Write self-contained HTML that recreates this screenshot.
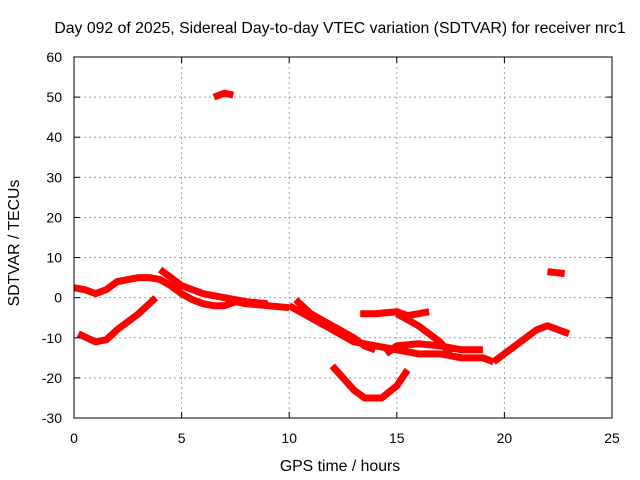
<!DOCTYPE html>
<html><head><meta charset="utf-8"><style>
body{margin:0;background:#fff}
svg{display:block;font-family:"Liberation Sans",sans-serif;font-size:14px}
.big{font-size:15.8px}
</style></head><body>
<svg id="c" width="640" height="480">
<text class="big" x="340" y="33" text-anchor="middle">Day 092 of 2025, Sidereal Day-to-day VTEC variation (SDTVAR) for receiver nrc1</text>
<text class="big" x="340" y="471" text-anchor="middle">GPS time / hours</text>
<text class="big" transform="translate(19,243) rotate(-90)" text-anchor="middle">SDTVAR / TECUs</text>
<g id="grid"></g><g id="series"></g>
<rect x="74" y="57" width="538" height="361" fill="none" stroke="#000"/>
<g id="ticks"></g>
</svg>
<script>
const xTicks=[0,5,10,15,20,25];
const yTicks=[-30,-20,-10,0,10,20,30,40,50,60];
const traceMain=[[0,2.5],[0.5,2],[1,1],[1.5,2],[2,4],[2.5,4.5],[3,5],[3.5,5],[4,4.5],[4.5,3],[5,1],[5.5,-0.5],[6,-1.5],[6.5,-2],[7,-2],[7.5,-1],[8,-1.5],[9,-2],[10,-2.5]];
const traceUpper=[[4,7],[4.5,5],[5,3],[6,1],[7,0],[8,-1],[9,-1.5]];
const traceB=[[10.3,-0.5],[11,-4],[12,-7],[13,-10],[13.5,-12],[14,-13]];
const traceC=[[10,-2],[11,-5],[12,-8],[13,-11],[14,-12],[15,-13],[16,-14],[17,-14],[18,-15],[19,-15],[19.5,-16]];
const traceD=[[14.5,-14],[15,-12],[16,-11.5],[17,-12],[18,-13],[19,-13]];
const traceE=[[13.3,-4],[14,-4],[15,-3.5],[15.5,-4.5],[16,-4],[16.5,-3.5]];
const traceE2=[[15,-4],[16,-7],[17,-11],[17.5,-14]];
const traceF=[[19.5,-16],[20,-14],[21,-10],[21.5,-8],[22,-7],[22.5,-8],[23,-9]];
const traceG=[[0.2,-9],[1,-11],[1.5,-10.5],[2,-8],[3,-4],[3.8,0]];
const traceH=[[12,-17],[12.5,-20],[13,-23],[13.5,-25],[14.3,-25],[15,-22],[15.5,-18]];
const traceI=[[6.5,50],[7,51],[7.4,50.5]];
const traceJ=[[22,6.5],[22.8,6]];
const traces=[traceMain,traceUpper,traceB,traceC,traceD,traceE,traceE2,traceF,traceG,traceH,traceI,traceJ];
const X=v=>74+v*538/25, Y=v=>418-(v+30)*361/90;
const NS="http://www.w3.org/2000/svg";
const grid=document.getElementById('grid'),tk=document.getElementById('ticks'),ser=document.getElementById('series');
function mk(t,a,p){const e=document.createElementNS(NS,t);for(const k in a)e.setAttribute(k,a[k]);p.appendChild(e);return e;}
xTicks.forEach(v=>{
 if(v>0&&v<25){const g=mk('line',{x1:X(v),x2:X(v),y1:57,y2:418,stroke:'#a0a0a0','stroke-dasharray':'2,3'},grid);
 
 }
 const t=mk('text',{x:X(v),y:443,'text-anchor':'middle'},tk);t.textContent=v;
 
 
 mk('line',{x1:X(v),x2:X(v),y1:418,y2:412,stroke:'#000'},tk);mk('line',{x1:X(v),x2:X(v),y1:57,y2:63,stroke:'#000'},tk);
});
yTicks.forEach(v=>{
 if(v>-30&&v<60){const g=mk('line',{x1:74,x2:612,y1:Y(v),y2:Y(v),stroke:'#a0a0a0','stroke-dasharray':'2,3'},grid);
 
 }
 const t=mk('text',{x:62,y:Y(v)+5,'text-anchor':'end'},tk);t.textContent=v;
 
 
 mk('line',{x1:74,x2:80,y1:Y(v),y2:Y(v),stroke:'#000'},tk);mk('line',{x1:606,x2:612,y1:Y(v),y2:Y(v),stroke:'#000'},tk);
});
traces.forEach(tr=>{
 const p=mk('polyline',{points:tr.map(d=>X(d[0])+','+Y(d[1])).join(' '),fill:'none',stroke:'#ff0000','stroke-width':7,'stroke-linejoin':'round','stroke-linecap':'butt'},ser);
 
 
});
</script>
</body></html>
